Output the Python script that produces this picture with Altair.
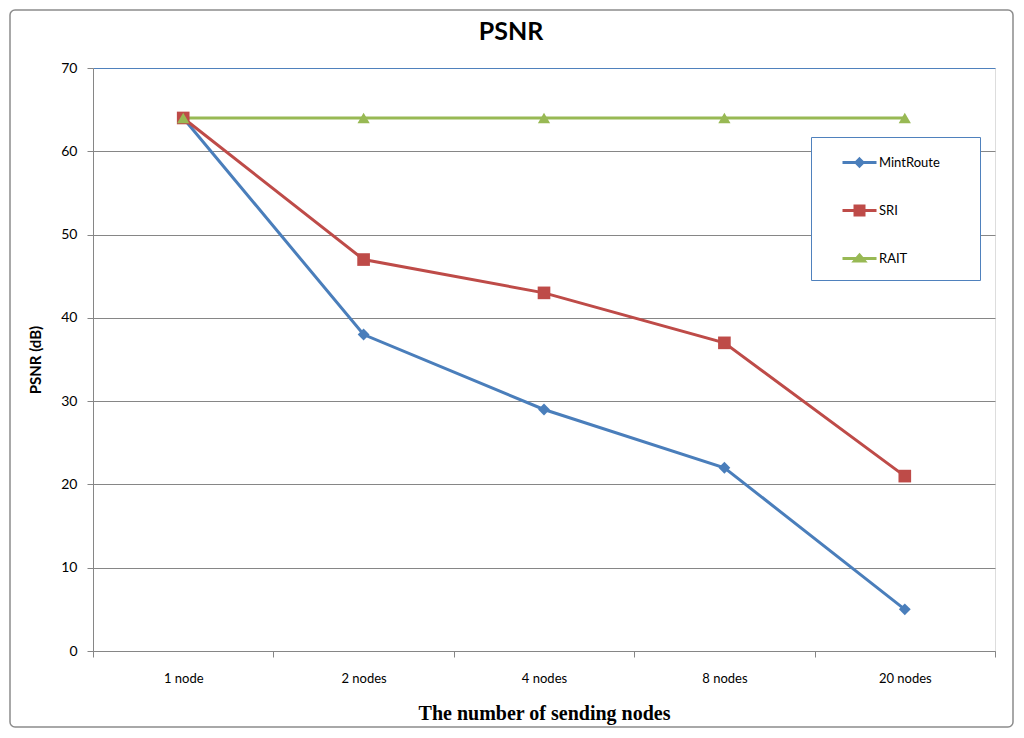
import altair as alt
import pandas as pd

categories = ["1 node", "2 nodes", "4 nodes", "8 nodes", "20 nodes"]
series_names = ["MintRoute", "SRI", "RAIT"]
mintroute = [64, 38, 29, 22, 5]
sri = [64, 47, 43, 37, 21]
rait = [64, 64, 64, 64, 64]
y_ticks = [0, 10, 20, 30, 40, 50, 60, 70]

colors = ["#4A7EBB", "#BE4B48", "#98B954"]
shapes = ["diamond", "square", "triangle-up"]

rows = []
for name, vals in zip(series_names, [mintroute, sri, rait]):
    for c, v in zip(categories, vals):
        rows.append({"nodes": c, "psnr": v, "series": name})
df = pd.DataFrame(rows)

SANS = "Lato"
W, H = 902, 583

# legend symbol paths: a line with the series marker on it
# (trailing move-to points only widen / deepen the legend frame)
legend_paths = [
    "M0.25,0H1.667M0.958,-0.146L1.104,0L0.958,0.146L0.812,0ZM5.71,0",
    "M0.25,0H1.667M0.771,-0.1875H1.146V0.1875H0.771Z",
    "M0.25,0H1.667M0.958,-0.146L1.167,0.104L0.75,0.104ZM0.9,0.63",
]

legend = alt.Legend(
    orient="none",
    legendX=718,
    legendY=69,
    title=None,
    padding=0,
    rowPadding=12,
    symbolSize=2304,
    symbolStrokeWidth=3,
    labelOffset=17,
    labelFont=SANS,
    labelFontSize=13,
    labelColor="#000000",
    strokeColor="#4F81BD",
    fillColor="#ffffff",
)

x_enc = alt.X(
    "nodes:N",
    sort=categories,
    bandPosition=0.5,
    scale=alt.Scale(type="band", paddingInner=0, paddingOuter=0),
    axis=alt.Axis(
        title="The number of sending nodes",
        titleFont="Liberation Serif",
        titleFontSize=20,
        titleFontWeight="bold",
        titleColor="#000000",
        titlePadding=18,
        labelFont=SANS,
        labelFontSize=13,
        labelColor="#000000",
        labelAngle=0,
        labelPadding=15,
        tickBand="extent",
        tickSize=6,
        tickColor="#868686",
        domainColor="#868686",
        grid=False,
    ),
)
y_enc = alt.Y(
    "psnr:Q",
    scale=alt.Scale(domain=[0, 70], nice=False, zero=True),
    axis=alt.Axis(
        values=y_ticks,
        title="PSNR (dB)",
        titleFont=SANS,
        titleFontSize=15,
        titleFontWeight="bold",
        titleColor="#000000",
        titlePadding=17,
        labelFont=SANS,
        labelFontSize=14,
        labelColor="#000000",
        labelPadding=10,
        tickSize=6,
        tickColor="#868686",
        domainColor="#868686",
        grid=True,
        gridColor={"condition": {"test": "datum.value === 70", "value": "#4F81BD"}, "value": "#868686"},
        gridWidth=1,
    ),
)
color_enc = alt.Color(
    "series:N",
    sort=series_names,
    scale=alt.Scale(domain=series_names, range=colors),
    legend=legend,
)

base = alt.Chart(df)

lines = base.mark_line(strokeWidth=3).encode(x=x_enc, y=y_enc, color=color_enc)

point_layers = [
    base.transform_filter(alt.datum.series == name)
    .mark_point(filled=True, size=size, opacity=1, shape=shp)
    .encode(x=x_enc, y=y_enc, color=color_enc)
    for name, shp, size in zip(series_names, shapes, [140, 160, 150])
]

# empty layer that only supplies the legend's line-and-marker symbols
legend_carrier = base.transform_filter("false").mark_point(
    filled=True, opacity=1
).encode(
    x=x_enc,
    y=y_enc,
    color=color_enc,
    shape=alt.Shape(
        "series:N",
        sort=series_names,
        scale=alt.Scale(domain=series_names, range=legend_paths),
        legend=legend,
    ),
)

frame = alt.Chart(alt.Data(values=[{}])).mark_rect(
    fill="transparent", stroke="#8C8C8C", strokeWidth=1.5, cornerRadius=5
).encode(
    x=alt.value(-83), x2=alt.value(W + 18), y=alt.value(-58), y2=alt.value(H + 76)
)

chart = alt.layer(frame, lines, *point_layers, legend_carrier).properties(
    width=W,
    height=H,
    title=alt.TitleParams(
        "PSNR",
        font=SANS,
        fontSize=25,
        fontWeight="bold",
        color="#000000",
        anchor="middle",
        frame="group",
        dx=-33,
        dy=56,
        baseline="alphabetic",
        offset=0,
    ),
    padding={"left": 85, "top": 60, "right": 20, "bottom": 78},
    autosize=alt.AutoSizeParams(type="none"),
).configure_view(
    stroke="#4F81BD", strokeWidth=1
).configure(background="#ffffff")

chart.save("out.html", embed_options={"renderer": "svg", "actions": False})
